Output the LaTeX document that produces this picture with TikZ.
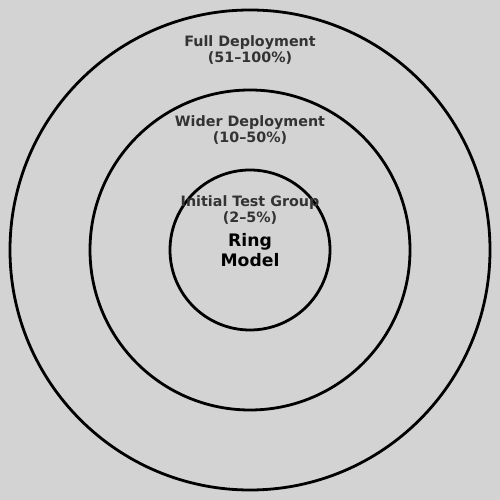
\documentclass[tikz,border=0pt]{standalone}
\usepackage{fontspec}
\setmainfont{DejaVu Sans}
\usetikzlibrary{positioning}
\definecolor{bggray}{HTML}{D3D3D3}
\definecolor{labelgray}{HTML}{333333}

\begin{document}
\begin{tikzpicture}[x=1pt, y=1pt]
\tikzstyle{ring}=[draw, circle, line width=2.8pt, inner sep=0pt]
\tikzstyle{ringlabel}=[align=center, text=labelgray, font=\bfseries\fontsize{14.3}{16.8}\selectfont]
\fill[bggray] (0,0) rectangle (500,500);
\useasboundingbox (0,0) rectangle (500,500);
% rings, outer to inner
\node[ring, minimum size=480pt] (full) at (250,250) {};
\node[ring, minimum size=320pt] (wider) at (250,250) {};
\node[ring, minimum size=160pt] (initial) at (250,250) {};
% labels
\node[ringlabel] (fulltext) at (250,450) {Full Deployment\\(51–100\%)};
\node[ringlabel] (widertext) at (250,370) {Wider Deployment\\(10–50\%)};
\node[ringlabel] (initialtext) at (250,290) {Initial Test Group\\(2–5\%)};
\node[align=center, font=\bfseries\fontsize{17.2}{20.6}\selectfont] (model) at (250,250) {Ring\\Model};
\end{tikzpicture}
\end{document}
